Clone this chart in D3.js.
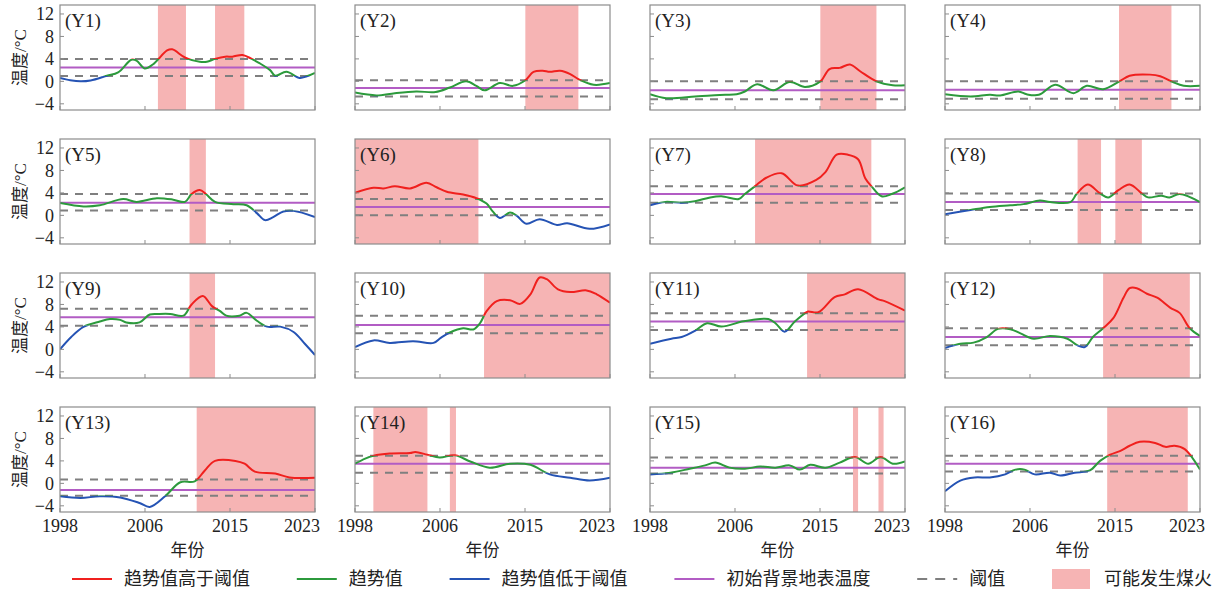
<!DOCTYPE html>
<html lang="zh">
<head>
  <meta charset="UTF-8">
  <title>趋势值与阈值</title>
  <script src="https://d3js.org/d3.v7.min.js"></script>
  <style>
    body { margin: 0; background: #fff; }
    svg { display: block; font-family: "Liberation Serif", "Noto Sans CJK SC", serif; }
  </style>
</head>
<body>
<svg width="1225" height="593"></svg>
<script>
  // ---- data ----
  const panelNames = ["Y1","Y2","Y3","Y4","Y5","Y6","Y7","Y8","Y9","Y10","Y11","Y12","Y13","Y14","Y15","Y16"];
  const xTickValues = [1998, 2006.333, 2014.667, 2023];
  const xTickLabels = ["1998", "2006", "2015", "2023"];
  const yTickValues = [-4, 0, 4, 8, 12];

  const baseTemp  = [2.45, -1.2, -1.6, -1.5, 2.25, 1.5, 3.8, 2.37, 5.7, 4.35, 4.95, 2.2, -1.2, 3.5, 2.8, 3.5];
  const upperThr  = [4.0, 0.2, 0.0, 0.0, 3.8, 2.9, 5.2, 3.9, 7.25, 6.0, 6.45, 3.75, 0.7, 4.9, 4.6, 4.9];
  const lowerThr  = [0.95, -2.7, -3.2, -3.1, 0.85, 0.0, 2.25, 0.96, 4.2, 2.85, 3.45, 0.72, -2.2, 1.9, 1.75, 2.1];

  const fireSpans = [
    [[2007.6, 2010.35], [2013.2, 2016.07]],
    [[2014.7, 2019.9]],
    [[2014.7, 2020.2]],
    [[2015.06, 2020.2]],
    [[2010.7, 2012.3]],
    [[1998, 2010.1]],
    [[2008.3, 2019.7]],
    [[2011.0, 2013.3], [2014.7, 2017.3]],
    [[2010.7, 2013.2]],
    [[2010.65, 2023]],
    [[2013.4, 2023]],
    [[2013.5, 2022.0]],
    [[2011.4, 2023]],
    [[1999.8, 2005.1], [2007.3, 2007.9]],
    [[2017.9, 2018.4], [2020.4, 2020.9]],
    [[2013.9, 2021.8]]
  ];

  // trend values, [year, °C]
  const trendY1 = [[1998,0.6],[1999,0.2],[2000,0.0],[2001,0.15],[2002.6,1.0],[2003.7,1.6],[2005,3.85],[2005.5,3.7],[2006.3,2.3],[2007.1,3.0],[2008.5,5.5],[2009,5.7],[2010.3,4.2],[2011.7,3.5],[2012.4,3.5],[2013.2,4.0],[2014.2,4.4],[2014.9,4.4],[2015.9,4.7],[2016.8,4.0],[2017.5,3.3],[2018.6,2.0],[2019.1,1.0],[2020.2,1.7],[2021.5,0.6],[2022.2,0.9],[2023,1.5]];
  const trendY2 = [[1998,-2.0],[2000.1,-2.5],[2001.9,-2.1],[2004,-1.8],[2005.9,-1.9],[2007.3,-1.1],[2008.9,0.0],[2009.9,-0.8],[2010.7,-1.6],[2012.2,-0.3],[2013.5,-0.8],[2014.7,0.2],[2015.5,1.7],[2016.4,1.9],[2017.1,1.7],[2018.1,1.9],[2019.1,1.3],[2019.9,0.4],[2021.4,-0.6],[2023,-0.3]];
  const trendY3 = [[1998,-2.3],[1999.6,-3.0],[2002.4,-2.7],[2004,-2.5],[2005.4,-2.4],[2006.5,-2.3],[2007.3,-1.8],[2008.5,-0.5],[2010.1,-1.6],[2011.7,-0.1],[2013.2,-1.0],[2014.7,0.0],[2015.6,2.2],[2016.6,2.4],[2017.6,3.0],[2018.6,1.8],[2020.2,0.0],[2021.8,-0.7],[2023,-0.7]];
  const trendY4 = [[1998,-2.3],[2000.5,-2.7],[2002.4,-2.4],[2003.4,-2.5],[2005.2,-1.8],[2006,-2.3],[2007.2,-2.4],[2008.8,-0.6],[2010.6,-2.1],[2011.9,-0.8],[2013.5,-1.4],[2015.1,0.0],[2016.1,1.0],[2018.1,1.2],[2019.1,0.9],[2020.3,-0.1],[2021.4,-0.8],[2023,-0.8]];
  const trendY5 = [[1998,2.2],[2000.3,1.6],[2001.9,1.8],[2004.2,2.9],[2005.5,2.4],[2007.5,3.05],[2009.1,2.8],[2010.25,2.4],[2010.9,3.8],[2011.7,4.5],[2012.3,3.8],[2013.2,2.4],[2015,2.0],[2016.3,1.8],[2017.3,0.4],[2018.1,-0.85],[2018.9,-0.3],[2019.9,0.7],[2020.9,0.8],[2023,-0.3]];
  const trendY6 = [[1998,4.0],[1999.8,4.9],[2000.8,4.8],[2001.9,5.2],[2003.4,4.8],[2005,5.8],[2006,5.0],[2007,4.2],[2008.6,3.7],[2009.9,3.05],[2010.9,2.1],[2011.5,0.7],[2012.2,-0.45],[2013.2,0.5],[2013.85,-0.05],[2014.8,-1.5],[2016.1,-0.7],[2017.8,-1.7],[2018.8,-1.4],[2021,-2.4],[2023,-1.6]];
  const trendY7 = [[1998,1.8],[1999.5,2.4],[2001.1,2.25],[2002.4,2.5],[2003.9,3.2],[2005,3.4],[2006.7,2.9],[2007.3,3.8],[2008.3,5.2],[2009.4,6.7],[2010.9,7.5],[2012.5,5.3],[2014.3,6.3],[2015.2,7.7],[2016.3,10.8],[2017.4,10.8],[2018.4,10.0],[2019.1,6.6],[2019.7,5.2],[2020.7,3.4],[2021.7,3.8],[2023,5.0]];
  const trendY8 = [[1998,0.2],[2000.5,0.96],[2002.4,1.5],[2004.4,1.8],[2005.7,2.0],[2007.3,2.65],[2008.3,2.37],[2010.3,2.37],[2010.9,3.8],[2012,5.5],[2013.2,3.9],[2014,3.2],[2015,4.5],[2016.1,5.5],[2017.3,3.9],[2017.9,3.2],[2019.2,3.5],[2020,3.2],[2021,3.8],[2023,2.37]];
  const trendY9 = [[1998,0.0],[1999.1,2.2],[2000.3,4.0],[2001.9,4.95],[2002.9,5.4],[2003.9,5.25],[2004.5,4.8],[2005.8,4.8],[2006.8,6.2],[2007.7,6.3],[2008.8,6.3],[2010.1,6.0],[2010.9,8.0],[2012,9.5],[2012.9,7.7],[2013.7,6.8],[2014.3,6.0],[2015.6,6.0],[2016.3,6.5],[2017.3,5.1],[2018.3,4.05],[2019.6,4.05],[2020.9,3.1],[2022,1.0],[2023,-1.0]];
  const trendY10 = [[1998,0.4],[1999.8,1.6],[2001.4,1.15],[2003.7,1.45],[2005.7,1.15],[2006.4,2.05],[2007.3,3.0],[2008.6,3.75],[2009.6,3.55],[2010.25,4.65],[2010.9,6.8],[2011.9,8.6],[2013.2,8.75],[2014.2,8.1],[2015.2,9.8],[2016.1,12.8],[2016.8,12.5],[2017.9,10.7],[2019.1,10.2],[2020.7,10.5],[2021.7,9.8],[2023,8.3]];
  const trendY11 = [[1998,1.0],[2000.1,1.9],[2001.1,2.2],[2002.4,3.3],[2003.6,4.65],[2005,4.05],[2007,4.95],[2008,5.25],[2009.6,5.4],[2010.3,4.65],[2011.2,3.15],[2012.2,4.95],[2013.2,6.45],[2013.5,6.75],[2014.5,6.6],[2016.1,9.3],[2017.1,9.8],[2018.4,10.7],[2020.4,8.9],[2021,8.6],[2023,6.9]];
  const trendY12 = [[1998,0.25],[1999.5,1.0],[2000.8,1.2],[2002.1,2.2],[2003.2,3.65],[2004.4,3.6],[2005.4,2.85],[2006.7,1.9],[2008.3,2.4],[2010,1.9],[2011,0.7],[2011.7,0.4],[2012.5,2.2],[2013.5,3.75],[2014.5,5.55],[2015.5,9.2],[2016.1,10.9],[2016.8,10.9],[2017.8,9.9],[2018.8,9.2],[2020.1,7.4],[2021,6.5],[2022,3.75],[2023,2.4]];
  const trendY13 = [[1998,-2.3],[2000,-2.6],[2001.9,-2.3],[2003.9,-2.5],[2005.8,-3.5],[2006.8,-4.2],[2008.3,-2.3],[2009.8,0.2],[2011.2,0.35],[2012.2,2.3],[2013.2,4.0],[2015.2,4.0],[2016.1,3.5],[2017.1,2.1],[2019.1,1.75],[2020.5,1.05],[2023,1.0]];
  const trendY14 = [[1998,3.5],[1999,4.4],[1999.8,4.9],[2001.4,5.3],[2003.4,5.4],[2003.9,5.6],[2005.1,5.1],[2006.3,4.6],[2007.8,5.0],[2009.3,3.9],[2011.2,2.8],[2013.2,3.5],[2015.2,3.3],[2017.1,1.6],[2019.1,1.0],[2021,0.5],[2023,1.0]];
  const trendY15 = [[1998,1.6],[2000,1.9],[2001.9,2.6],[2003.4,3.2],[2004.4,3.7],[2005.8,2.8],[2007.3,2.6],[2008.8,3.0],[2010.3,2.8],[2011.7,3.2],[2012.7,2.45],[2013.7,3.3],[2015.2,2.8],[2016.6,3.7],[2018.1,4.7],[2019.4,3.5],[2020.6,4.7],[2021.8,3.5],[2023,3.9]];
  const trendY16 = [[1998,-1.4],[1999.5,0.5],[2000.9,1.05],[2002.4,1.05],[2003.9,1.6],[2004.9,2.45],[2005.8,2.45],[2006.8,1.6],[2008.3,1.9],[2009.3,1.4],[2010.7,1.9],[2012.2,2.3],[2013.2,4.0],[2014.2,5.1],[2015.2,5.8],[2016.1,6.7],[2017.1,7.4],[2018.6,7.2],[2019.6,6.5],[2020.5,6.7],[2021.5,6.1],[2023,2.45]];

  const trends = [trendY1, trendY2, trendY3, trendY4, trendY5, trendY6, trendY7, trendY8,
                  trendY9, trendY10, trendY11, trendY12, trendY13, trendY14, trendY15, trendY16];

  const legendLabels = ["趋势值高于阈值", "趋势值", "趋势值低于阈值", "初始背景地表温度", "阈值", "可能发生煤火"];

  // ---- layout ----
  const colLeft = [60, 355, 650, 945];
  const rowTop = [5, 139, 273, 407];
  const pw = 255, ph = 105;

  const RED = "#f0201e", GREEN = "#2c9a3c", BLUE = "#2553b4", PURPLE = "#b25cc4",
        GRAY = "#7f7f7f", PINK = "#f6b4b4", FRAME = "#8c8c8c";

  const svg = d3.select("svg");
  svg.append("rect").attr("width", 1225).attr("height", 593).attr("fill", "#fff");

  const x = d3.scaleLinear().domain([1998, 2023]).range([0, pw]);
  const y = d3.scaleLinear().domain([-5.1, 13.6]).range([ph, 0]);

  const line = d3.line()
    .x(d => x(d[0]))
    .y(d => y(d[1]))
    .curve(d3.curveCatmullRom.alpha(0.5));

  trends.forEach((data, i) => {
    const row = Math.floor(i / 4), col = i % 4;
    const g = svg.append("g").attr("transform", `translate(${colLeft[col]},${rowTop[row]})`);
    const id = "p" + i;

    const defs = g.append("defs");
    const hi = y(upperThr[i]), lo = y(lowerThr[i]);
    defs.append("clipPath").attr("id", id + "hi")
      .append("rect").attr("width", pw).attr("height", hi);
    defs.append("clipPath").attr("id", id + "mid")
      .append("rect").attr("y", hi).attr("width", pw).attr("height", lo - hi);
    defs.append("clipPath").attr("id", id + "lo")
      .append("rect").attr("y", lo).attr("width", pw).attr("height", ph - lo);

    // possible coal fire periods
    g.selectAll("rect.fire").data(fireSpans[i]).join("rect")
      .attr("class", "fire")
      .attr("x", d => x(d[0]))
      .attr("width", d => x(d[1]) - x(d[0]))
      .attr("y", 0).attr("height", ph)
      .attr("fill", PINK);

    // thresholds
    g.selectAll("line.thr").data([upperThr[i], lowerThr[i]]).join("line")
      .attr("class", "thr")
      .attr("x1", 0).attr("x2", pw)
      .attr("y1", d => y(d)).attr("y2", d => y(d))
      .attr("stroke", GRAY).attr("stroke-width", 2)
      .attr("stroke-dasharray", "8,7");

    // initial background temperature
    g.append("line")
      .attr("x1", 0).attr("x2", pw)
      .attr("y1", y(baseTemp[i])).attr("y2", y(baseTemp[i]))
      .attr("stroke", PURPLE).attr("stroke-width", 2);

    // trend line, coloured by threshold bands
    [["mid", GREEN], ["hi", RED], ["lo", BLUE]].forEach(([k, c]) => {
      g.append("g").attr("clip-path", `url(#${id}${k})`)
        .append("path")
        .datum(data)
        .attr("d", line)
        .attr("fill", "none")
        .attr("stroke", c)
        .attr("stroke-width", 2);
    });

    // frame
    g.append("rect").attr("width", pw).attr("height", ph)
      .attr("fill", "none").attr("stroke", FRAME).attr("stroke-width", 1.2);

    // inward ticks
    g.selectAll("line.yt").data(yTickValues).join("line")
      .attr("class", "yt")
      .attr("x1", 0).attr("x2", 4)
      .attr("y1", d => y(d)).attr("y2", d => y(d))
      .attr("stroke", FRAME);
    g.selectAll("line.xt").data(xTickValues).join("line")
      .attr("class", "xt")
      .attr("x1", d => x(d)).attr("x2", d => x(d))
      .attr("y1", ph).attr("y2", ph - 4)
      .attr("stroke", FRAME);

    // panel tag
    g.append("text")
      .attr("x", 5).attr("y", 22)
      .attr("font-size", 19).attr("fill", "#222")
      .text(`(${panelNames[i]})`);

    if (col === 0) {
      g.selectAll("text.yl").data(yTickValues).join("text")
        .attr("class", "yl")
        .attr("x", -6).attr("y", d => y(d))
        .attr("dy", "0.35em")
        .attr("text-anchor", "end")
        .attr("font-size", 18).attr("fill", "#222")
        .text(d => d < 0 ? "\u2212" + Math.abs(d) : d);
      g.append("text")
        .attr("transform", `translate(-40,${ph / 2}) rotate(-90)`)
        .attr("text-anchor", "middle")
        .attr("dy", "0.35em")
        .attr("font-size", 17).attr("fill", "#222")
        .text("温度/°C");
    }

    if (row === 3) {
      // the last label sits a little inside the right edge
      g.selectAll("text.xl").data(xTickValues).join("text")
        .attr("class", "xl")
        .attr("x", (d, k) => x(d) - (k === xTickValues.length - 1 ? 13 : 0))
        .attr("y", ph + 20)
        .attr("text-anchor", "middle")
        .attr("font-size", 18).attr("fill", "#222")
        .text((d, k) => xTickLabels[k]);
      g.append("text")
        .attr("x", pw / 2).attr("y", ph + 44)
        .attr("text-anchor", "middle")
        .attr("font-size", 17).attr("fill", "#222")
        .text("年份");
    }
  });

  // ---- legend: laid out left to right, spread to fill the row ----
  const legY = 579, legLeft = 72, legRight = 1212, symW = 40, symGap = 12;
  const leg = svg.append("g");
  const items = legendLabels.map((lab, k) => {
    const it = leg.append("g");
    if (k === 5) {
      it.append("rect").attr("y", -10).attr("width", 38).attr("height", 20).attr("fill", PINK);
    } else {
      it.append("line")
        .attr("x1", 0).attr("x2", symW)
        .attr("stroke", [RED, GREEN, BLUE, PURPLE, GRAY][k]).attr("stroke-width", 2)
        .attr("stroke-dasharray", k === 4 ? "10,8" : null);
    }
    const t = it.append("text")
      .attr("x", symW + symGap).attr("dy", "0.35em")
      .attr("font-size", 18).attr("fill", "#222")
      .text(lab);
    return { it, w: symW + symGap + t.node().getComputedTextLength() };
  });
  const spare = (legRight - legLeft - d3.sum(items, d => d.w)) / (items.length - 1);
  let cx = legLeft;
  items.forEach(d => {
    d.it.attr("transform", `translate(${cx},${legY})`);
    cx += d.w + spare;
  });
</script>
</body>
</html>
